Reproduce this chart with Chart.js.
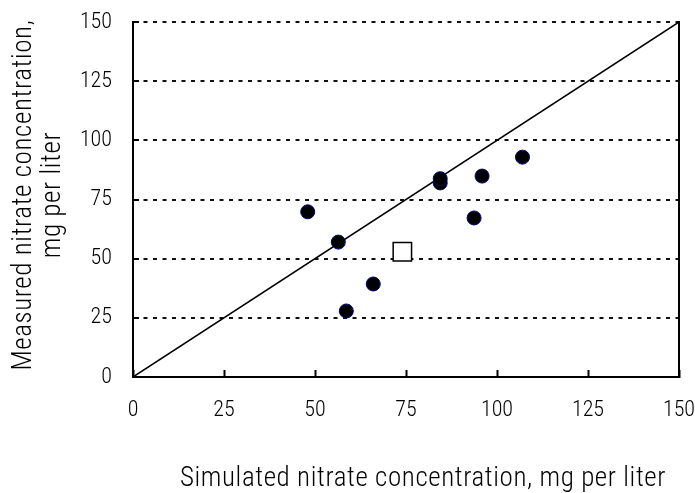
<!DOCTYPE html>
<html>
<head>
<meta charset="utf-8">
<script src="https://cdn.jsdelivr.net/npm/chart.js@4.4.1/dist/chart.umd.min.js"></script>
<style>
  html, body { margin: 0; padding: 0; background: #ffffff; }
  #wrap { width: 695px; height: 493px; position: relative; }
</style>
</head>
<body>
<div id="wrap"><canvas id="c"></canvas></div>
<script>
// ---- data ----
const simulatedX = [48.0, 56.4, 58.6, 66.0, 84.4, 84.4, 93.7, 95.9, 107.0];
const measuredY  = [69.8, 57.0, 27.9, 39.3, 82.0, 83.8, 67.2, 84.9, 92.9];
const openX = [74.0];
const openY = [52.9];
const lineX = [0, 150];
const lineY = [0, 150];
const axisMin = 0;
const axisMax = 150;
const axisStep = 25;
const xTitle = 'Simulated nitrate concentration, mg per liter';
const yTitle = ['Measured nitrate concentration,', 'mg per liter'];

const FONT = "'Roboto Condensed', 'Liberation Sans Narrow', 'Liberation Sans', sans-serif";

const toPts = (xs, ys) => xs.map((x, i) => ({ x: x, y: ys[i] }));

function wrapTitle(scale, dx, dy, spacing) {
  if (scale._titleWrapped) return;
  const orig = scale.drawTitle.bind(scale);
  scale.drawTitle = function () {
    const ctx = this.ctx;
    ctx.save();
    ctx.translate(dx, dy);
    try { ctx.letterSpacing = spacing; } catch (e) {}
    orig();
    ctx.restore();
  };
  scale._titleWrapped = true;
}

new Chart(document.getElementById('c'), {
  type: 'scatter',
  data: {
    datasets: [
      {
        label: 'Measured vs simulated',
        data: toPts(simulatedX, measuredY),
        pointStyle: 'circle',
        pointRadius: 7,
        pointHoverRadius: 7,
        backgroundColor: '#000000',
        borderColor: '#000080',
        borderWidth: 1,
        order: 1
      },
      {
        label: 'Other',
        data: toPts(openX, openY),
        pointStyle: 'rect',
        pointRadius: 13,
        pointHoverRadius: 13,
        backgroundColor: '#ffffff',
        borderColor: '#000000',
        borderWidth: 1.5,
        order: 2
      },
      {
        type: 'line',
        label: '1:1 line',
        data: toPts(lineX, lineY),
        borderColor: '#000000',
        borderWidth: 1.5,
        pointRadius: 0,
        fill: false,
        order: 3
      }
    ]
  },
  options: {
    responsive: true,
    maintainAspectRatio: false,
    animation: false,
    layout: { padding: { top: 22, left: 0, right: 0, bottom: 0 } },
    plugins: {
      legend: { display: false },
      tooltip: { enabled: false }
    },
    scales: {
      x: {
        type: 'linear',
        position: 'bottom',
        min: axisMin,
        max: axisMax,
        ticks: {
          stepSize: axisStep,
          color: '#000000',
          padding: 27,
          font: { family: FONT, size: 22, weight: '300' },
          maxRotation: 0
        },
        grid: {
          drawOnChartArea: false,
          drawTicks: true,
          tickLength: -7,
          tickColor: '#000000',
          tickWidth: 2
        },
        border: { display: true, color: '#000000', width: 2 },
        title: {
          display: true,
          text: xTitle,
          color: '#000000',
          font: { family: FONT, size: 27, lineHeight: 1, weight: '300' },
          padding: { top: 0, bottom: 0 }
        },
        afterFit: (s) => {
          s.height = 116;
          s.paddingLeft = 0;
          s.paddingRight = 0;
          wrapTitle(s, 17, 0, '0.6px');
        }
      },
      y: {
        type: 'linear',
        position: 'left',
        min: axisMin,
        max: axisMax,
        ticks: {
          stepSize: axisStep,
          color: '#000000',
          padding: 27,
          font: { family: FONT, size: 22, weight: '300' }
        },
        grid: {
          drawOnChartArea: true,
          color: '#111111',
          lineWidth: 2,
          drawTicks: true,
          tickLength: -6,
          tickColor: '#000000',
          tickWidth: 2
        },
        border: { display: true, color: '#000000', width: 2, dash: [4, 5.5] },
        title: {
          display: true,
          text: yTitle,
          color: '#000000',
          font: { family: FONT, size: 27, lineHeight: 1.1, weight: '300' },
          padding: { top: 9, bottom: 0 }
        },
        afterFit: (s) => {
          s.width = 133;
          s.paddingTop = 0;
          s.paddingBottom = 0;
          wrapTitle(s, 0, -4.5, '0.6px');
        }
      },
      yRight: {
        type: 'linear',
        position: 'right',
        min: axisMin,
        max: axisMax,
        ticks: { display: false },
        grid: { display: false },
        border: { display: true, color: '#000000', width: 2 },
        afterFit: (s) => {
          s.width = 16;
          s.paddingTop = 0;
          s.paddingBottom = 0;
        }
      }
    }
  }
});
</script>
</body>
</html>
